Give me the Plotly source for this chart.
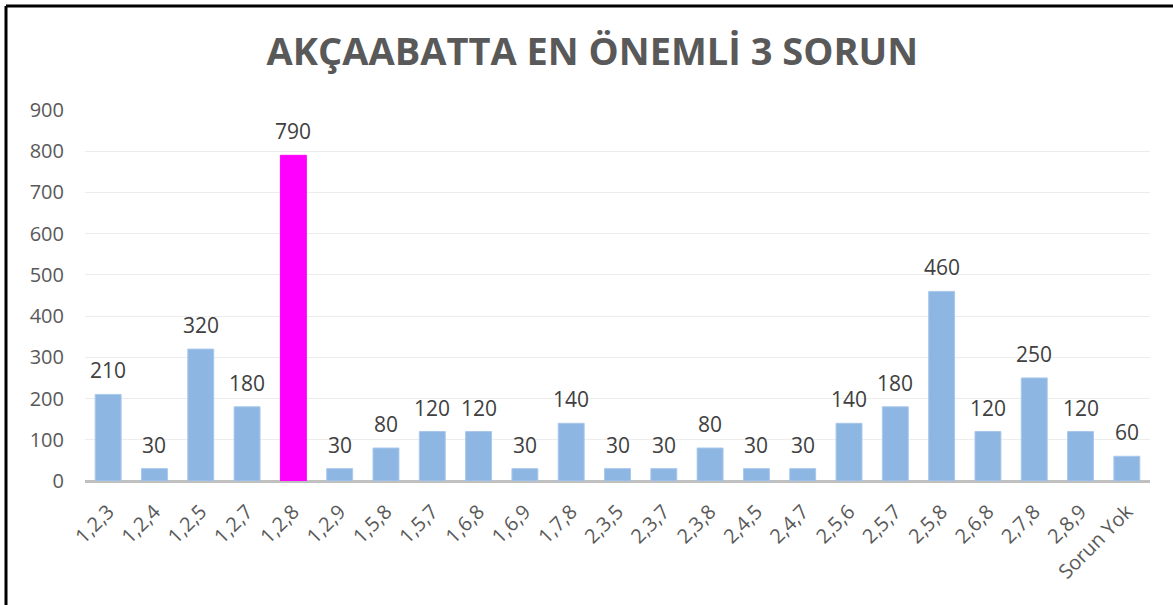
import plotly.graph_objects as go

categories = ["1,2,3", "1,2,4", "1,2,5", "1,2,7", "1,2,8", "1,2,9", "1,5,8", "1,5,7",
              "1,6,8", "1,6,9", "1,7,8", "2,3,5", "2,3,7", "2,3,8", "2,4,5", "2,4,7",
              "2,5,6", "2,5,7", "2,5,8", "2,6,8", "2,7,8", "2,8,9", "Sorun Yok"]
values = [210, 30, 320, 180, 790, 30, 80, 120, 120, 30, 140, 30, 30, 80, 30, 30,
          140, 180, 460, 120, 250, 120, 60]
highlight = "1,2,8"

BLUE = "#8DB6E2"
MAGENTA = "#FF00FF"
colors = [MAGENTA if c == highlight else BLUE for c in categories]
outline = ["#FF00FF" if c == highlight else "#A9C8EC" for c in categories]

W, H = 1173, 605
ml, mr, mt, mb = 85, 23, 110, 124
pw, ph = W - ml - mr, H - mt - mb
FONT = "Open Sans"

fig = go.Figure(go.Bar(
    x=categories, y=values,
    marker=dict(color=colors, line=dict(color=outline, width=1)),
))

# value labels above each bar
for c, v in zip(categories, values):
    fig.add_annotation(x=c, y=v, text=str(v), showarrow=False,
                       yanchor="middle", yshift=24,
                       font=dict(family=FONT, size=21, color="#404040"))

def px_x(x):
    return (x - ml) / pw

def px_y(y):
    return (H - mb - y) / ph

# frame: top and left edges
fig.add_shape(type="line", xref="paper", yref="paper",
              x0=px_x(6), x1=px_x(W + 5), y0=px_y(6), y1=px_y(6),
              line=dict(color="black", width=3))
fig.add_shape(type="line", xref="paper", yref="paper",
              x0=px_x(6), x1=px_x(6), y0=px_y(6), y1=px_y(H + 5),
              line=dict(color="black", width=3))

fig.update_layout(
    width=W, height=H,
    margin=dict(l=ml, r=mr, t=mt, b=mb),
    paper_bgcolor="white", plot_bgcolor="white",
    bargap=0.44,
    showlegend=False,
    title=dict(text="<b>AKÇAABATTA EN ÖNEMLİ 3 SORUN</b>",
               x=0.505, xanchor="center", y=1 - 52 / H, yanchor="middle",
               font=dict(family=FONT, size=38, color="#595959")),
    xaxis=dict(tickangle=-45, tickfont=dict(family=FONT, size=20, color="#595959"),
               showgrid=False, zeroline=False, showline=False, ticks="",
               ticklabelstandoff=14),
    yaxis=dict(range=[0, 900], dtick=100, tickfont=dict(family=FONT, size=20, color="#595959"),
               showgrid=True, gridcolor="#EDEDED", gridwidth=1,
               zeroline=True, zerolinecolor="#C0C0C0", zerolinewidth=3,
               showline=False, ticks="", ticklabelstandoff=20),
)

fig.write_html("out.html")
